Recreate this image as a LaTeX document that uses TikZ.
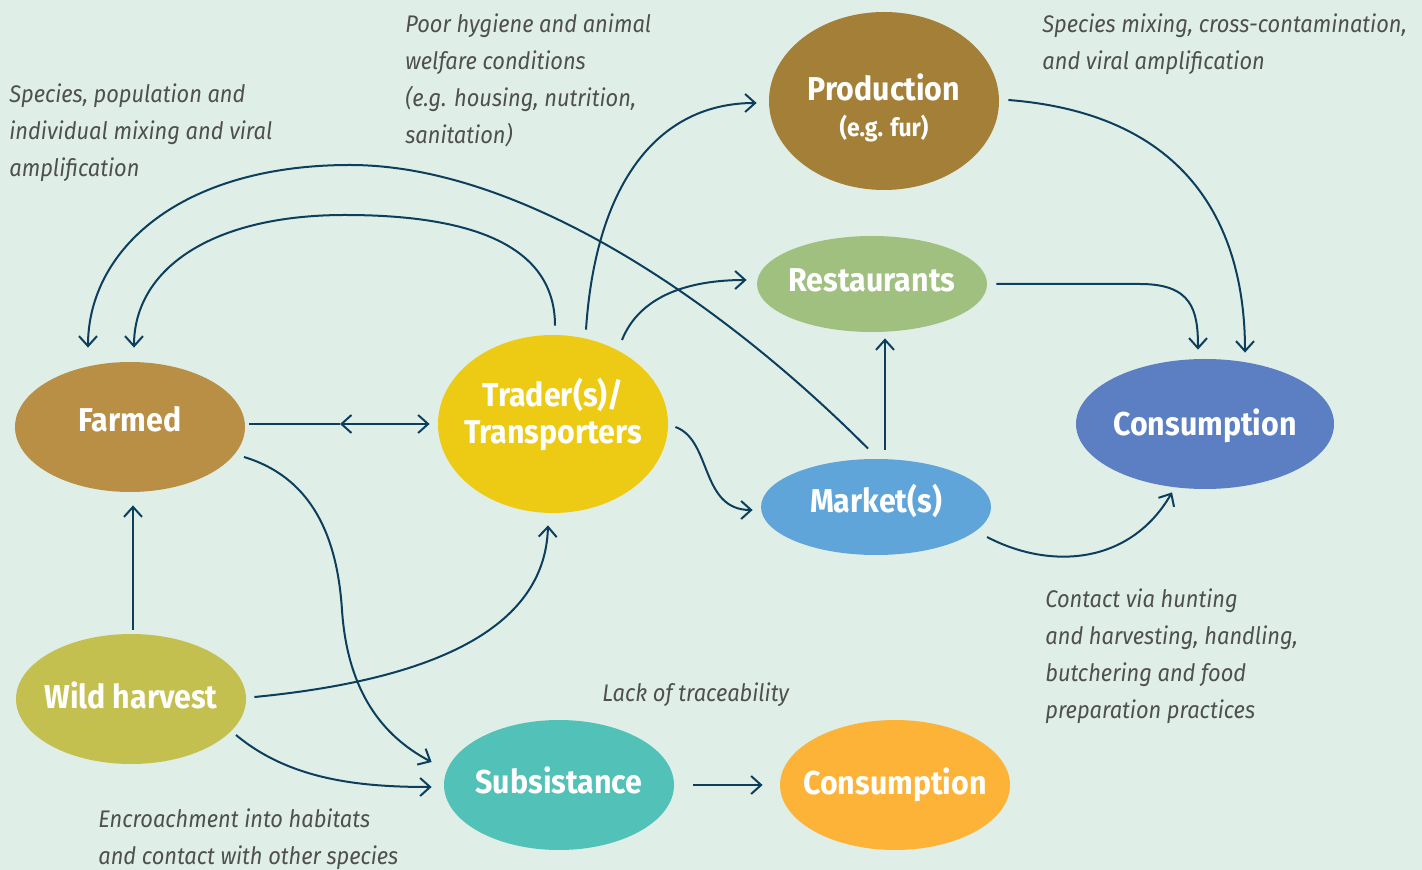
\documentclass[tikz,border=0pt]{standalone}
\usepackage{fontspec}
\setmainfont{Fira Sans}
\newfontfamily\labfont{Fira Sans}[FakeStretch=0.92]
\newfontfamily\capfont{Fira Sans}[FakeStretch=0.91]
\usetikzlibrary{shapes.geometric,arrows.meta,calc}
\definecolor{bgc}{HTML}{DFEFE7}
\definecolor{arrc}{HTML}{0D3F5C}
\definecolor{capc}{HTML}{4F4F4F}
\definecolor{cFarm}{HTML}{B98E45}
\definecolor{cTrade}{HTML}{EDCB14}
\definecolor{cProd}{HTML}{A47F38}
\definecolor{cRest}{HTML}{A0C080}
\definecolor{cConsB}{HTML}{5B7FC2}
\definecolor{cMark}{HTML}{5FA5DA}
\definecolor{cWild}{HTML}{C3C050}
\definecolor{cSubs}{HTML}{52C1B7}
\definecolor{cConsO}{HTML}{FDB338}
\begin{document}
\begin{tikzpicture}[x=0.5pt,y=-0.5pt,
  blob/.style={ellipse, draw=none, inner xsep=-25pt, inner ysep=0pt, text=white, align=center,
    text height=12pt, font=\labfont\bfseries\fontsize{16.5}{18.5}\selectfont},
  captxt/.style={anchor=base west, inner sep=0pt, align=left, text=capc,
    font=\capfont\itshape\fontsize{12}{18.5}\selectfont},
  conn/.style={draw=arrc, line width=1pt, -{Straight Barb[length=5pt,width=9pt]}},
  plainline/.style={draw=arrc, line width=1pt}]
\fill[bgc] (0,0) rectangle (1422,870);
\useasboundingbox (0,0) rectangle (1422,870);

% nodes
\node[blob, fill=cFarm, minimum width=115pt, minimum height=65pt, text depth=7.4pt] (farmed) at (130,427) {Farmed};
\node[blob, fill=cTrade, minimum width=115pt, minimum height=89pt, text height=24pt, text depth=4.4pt] (trader) at (553,424) {Trader(s)/\\Transporters};
\node[blob, fill=cProd, minimum width=115pt, minimum height=89pt, text height=40pt, text depth=4.2pt] (prod) at (884,101) {Production\\[-0.4pt]{\fontsize{12.5}{13}\selectfont (e.g. fur)}};
\node[blob, fill=cRest, minimum width=115pt, minimum height=48pt, text depth=4.4pt] (rest) at (872,284) {Restaurants};
\node[blob, fill=cConsB, minimum width=129pt, minimum height=65pt, text depth=0.4pt] (consb) at (1205,424) {Consumption};
\node[blob, fill=cMark, minimum width=115pt, minimum height=48pt, text depth=6.4pt] (market) at (876,507) {Market(s)};
\node[blob, fill=cWild, minimum width=115pt, minimum height=65pt, text depth=2.4pt] (wild) at (131,699) {Wild harvest};
\node[blob, fill=cSubs, minimum width=115pt, minimum height=65pt, text depth=3.4pt] (subs) at (559,785) {Subsistance};
\node[blob, fill=cConsO, minimum width=115pt, minimum height=65pt, text depth=2.4pt] (conso) at (895,785) {Consumption};

% captions (anchored at the baseline of the last line)
\node[captxt] (c1) at (9,177) {Species, population and\\individual mixing and viral\\amplification};
\node[captxt] (c2) at (405,144) {Poor hygiene and animal\\welfare conditions\\(e.g. housing, nutrition,\\sanitation)};
\node[captxt] (c3) at (1042,70) {Species mixing, cross-contamination,\\and viral amplification};
\node[captxt] (c4) at (1045,718) {Contact via hunting\\and harvesting, handling,\\butchering and food\\preparation practices};
\node[captxt] (c5) at (602,701) {Lack of traceability};
\node[captxt] (c6) at (98,864) {Encroachment into habitats\\and contact with other species};

% connectors
\draw[conn] ($(market.north)+(-8,-10)$) .. controls (720,300) and (520,165) .. (350,165)
  .. controls (180,165) and (88,250) .. ($(farmed.north)+(-42,-14)$);
\draw[conn] ($(trader.north)+(2,-9)$) .. controls (555,240) and (460,215) .. (345,215)
  .. controls (210,215) and (134,270) .. ($(farmed.north)+(4,-14)$);
\draw[conn] ($(trader.north)+(33,-5)$) .. controls (596,180) and (660,103) .. ($(prod.west)+(-12,2)$);
\draw[conn] ($(trader.center)+(69,-84)$) .. controls (640,295) and (690,280) .. ($(rest.west)+(-10,-4)$);
\draw[conn] ($(trader.east)+(7,3)$) .. controls (712,440) and (700,510) .. ($(market.west)+(-8,3)$);
\draw[conn] ($(market.north)+(9,-9)$) -- ($(rest.south)+(13,6)$);
\draw[conn] ($(rest.east)+(9,0)$) -- (1140,284) .. controls (1192,284) and (1198,310) .. ($(consb.north)+(-7,-9)$);
\draw[conn] ($(prod.east)+(9,-1)$) .. controls (1200,115) and (1245,240) .. ($(consb.north)+(40,-6)$);
\draw[conn] ($(market.center)+(111,30)$) .. controls (1050,570) and (1130,565) .. ($(consb.south)+(-33,3)$);
\draw[conn] ($(farmed.center)+(114,30)$) .. controls (320,480) and (338,550) .. (342,610)
  .. controls (348,700) and (390,740) .. ($(subs.west)+(-12,-23)$);
\draw[conn] ($(wild.north)+(2,-4)$) -- ($(farmed.south)+(3,13)$);
\draw[conn] ($(wild.east)+(8,-2)$) .. controls (430,680) and (545,630) .. ($(trader.south)+(-5,12)$);
\draw[conn] ($(wild.center)+(105,36)$) .. controls (290,780) and (360,787) .. ($(subs.west)+(-12,2)$);
\draw[conn] ($(subs.east)+(19,0)$) -- ($(conso.west)+(-17,0)$);
\coordinate (mid) at (340,424);
\draw[plainline] ($(farmed.east)+(4,-3)$) -- (mid);
\draw[conn, {Straight Barb[length=5pt,width=9pt]}-{Straight Barb[length=5pt,width=9pt]}] (mid) -- ($(trader.west)+(-8,0)$);
\end{tikzpicture}
\end{document}
